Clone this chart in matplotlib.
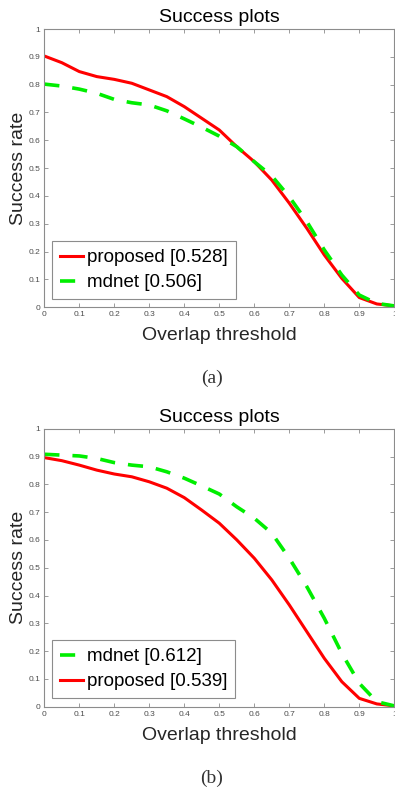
import matplotlib
matplotlib.use("Agg")
import matplotlib.pyplot as plt

# umbrales de solapamiento (eje x)
umbral = [0.0, 0.05, 0.1, 0.15, 0.2, 0.25, 0.3, 0.35, 0.4, 0.45, 0.5,
          0.55, 0.6, 0.65, 0.7, 0.75, 0.8, 0.85, 0.9, 0.95, 1.0]

# panel (a)
propuesto_a = [0.903, 0.879, 0.847, 0.829, 0.819, 0.805, 0.781, 0.757, 0.721, 0.679, 0.637,
               0.577, 0.523, 0.457, 0.374, 0.284, 0.188, 0.104, 0.035, 0.012, 0.005]
mdnet_a = [0.802, 0.795, 0.784, 0.769, 0.747, 0.735, 0.727, 0.706, 0.677, 0.647, 0.615,
           0.577, 0.523, 0.472, 0.397, 0.308, 0.206, 0.116, 0.044, 0.014, 0.005]

# panel (b)
propuesto_b = [0.896, 0.885, 0.869, 0.851, 0.837, 0.827, 0.809, 0.786, 0.752, 0.707, 0.660,
               0.600, 0.534, 0.456, 0.366, 0.270, 0.174, 0.090, 0.030, 0.010, 0.003]
mdnet_b = [0.908, 0.905, 0.902, 0.893, 0.878, 0.869, 0.863, 0.845, 0.822, 0.794, 0.765,
           0.719, 0.678, 0.624, 0.534, 0.432, 0.318, 0.192, 0.084, 0.018, 0.003]

etiqueta_prop_a = "proposed [0.528]"
etiqueta_mdnet_a = "mdnet [0.506]"
etiqueta_mdnet_b = "mdnet [0.612]"
etiqueta_prop_b = "proposed [0.539]"

xticks = [0, 0.1, 0.2, 0.3, 0.4, 0.5, 0.6, 0.7, 0.8, 0.9, 1]
xticklabels = ["0", "0.1", "0.2", "0.3", "0.4", "0.5", "0.6", "0.7", "0.8", "0.9", "1"]
yticks = [0, 0.1, 0.2, 0.3, 0.4, 0.5, 0.6, 0.7, 0.8, 0.9, 1]
yticklabels = ["0", "0.1", "0.2", "0.3", "0.4", "0.5", "0.6", "0.7", "0.8", "0.9", "1"]

plt.rcParams['font.family'] = ['Liberation Sans', 'DejaVu Sans']

W, H = 395, 792
fig = plt.figure(figsize=(W / 100, H / 100), dpi=100)

gris = "#8c8c8c"


def panel(ax, series, leyenda):
    lineas = {}
    for nombre, (y, color, estilo) in series.items():
        if estilo == "dash":
            l, = ax.plot(umbral, y, color=color, lw=2.6, dashes=(4.2, 3.6), label=nombre)
        else:
            l, = ax.plot(umbral, y, color=color, lw=2.2, label=nombre)
        lineas[nombre] = l

    ax.set_xlim(0, 1)
    ax.set_ylim(0, 1)
    ax.set_xticks(xticks)
    ax.set_xticklabels(xticklabels)
    ax.set_yticks(yticks)
    ax.set_yticklabels(yticklabels)
    ax.tick_params(direction="in", length=3, width=0.6, color=gris, labelsize=6,
                   labelcolor="#4d4d4d", top=True, right=True, pad=3)
    for s in ax.spines.values():
        s.set_color(gris)
        s.set_linewidth(0.8)

    ax.set_title("Success plots", fontsize=14, pad=5)
    ax.set_xlabel("Overlap threshold", fontsize=14, color="#262626")
    ax.set_ylabel("Success rate", fontsize=14, color="#262626")
    ax.yaxis.set_label_coords(-0.05, 0.5)
    ax.xaxis.set_label_coords(0.5, -0.072)

    leg = ax.legend([lineas[n] for n in leyenda], leyenda, loc="lower left",
                    bbox_to_anchor=(0.022, 0.03), borderaxespad=0, fontsize=13.5,
                    handlelength=1.25, handletextpad=0.2, labelspacing=0.42,
                    borderpad=0.42, fancybox=False, framealpha=1)
    leg.get_frame().set_edgecolor(gris)
    leg.get_frame().set_linewidth(0.8)


izq = 44.3 / W
ancho = 350 / W

ax1 = fig.add_axes([izq, (H - 307.3) / H, ancho, 278.3 / H])
panel(ax1, {etiqueta_prop_a: (propuesto_a, "#ff0000", "solid"),
            etiqueta_mdnet_a: (mdnet_a, "#00ee00", "dash")},
      [etiqueta_prop_a, etiqueta_mdnet_a])

ax2 = fig.add_axes([izq, (H - 706.7) / H, ancho, 278 / H])
panel(ax2, {etiqueta_prop_b: (propuesto_b, "#ff0000", "solid"),
            etiqueta_mdnet_b: (mdnet_b, "#00ee00", "dash")},
      [etiqueta_mdnet_b, etiqueta_prop_b])

fig.text(212 / W, 1 - 378 / H, "(a)", family="Liberation Serif", fontsize=14,
         ha="center", va="center", color="#333333")
fig.text(212 / W, 1 - 778 / H, "(b)", family="Liberation Serif", fontsize=14,
         ha="center", va="center", color="#333333")

fig.savefig("out.png", dpi=100)
